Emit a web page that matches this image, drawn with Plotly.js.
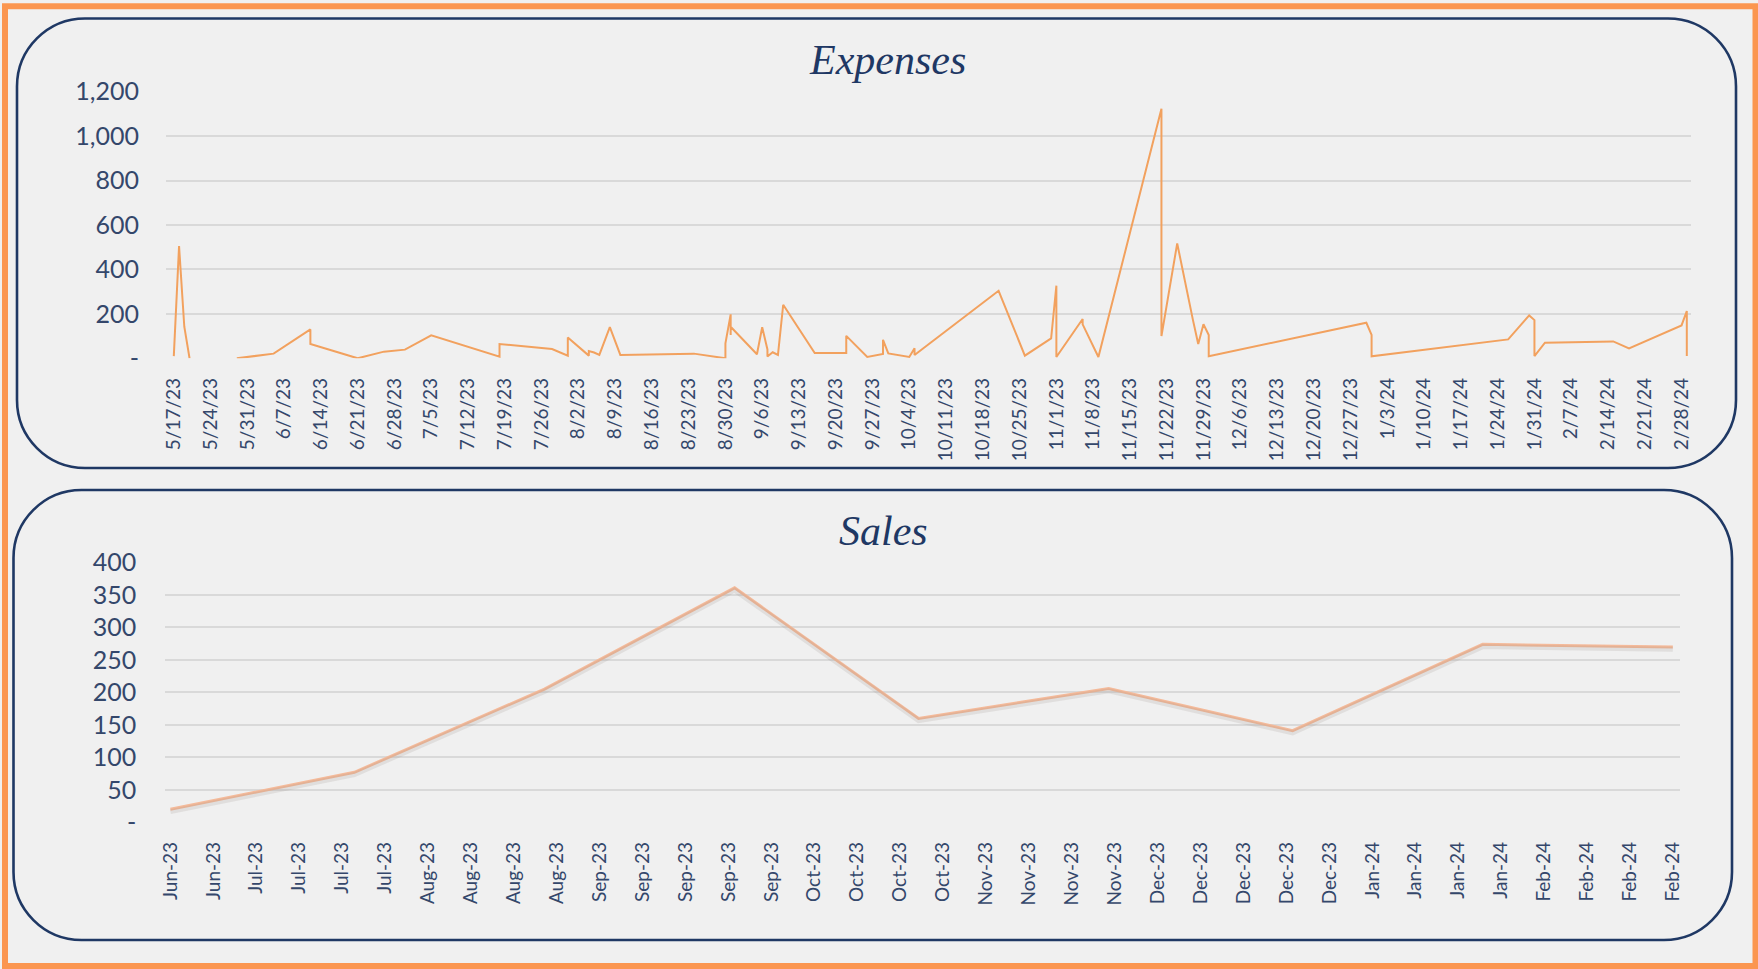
<!DOCTYPE html>
<html>
<head>
<meta charset="utf-8">
<script src="https://cdn.plot.ly/plotly-3.0.1.min.js"></script>
<style>
  html, body { margin: 0; padding: 0; background: #ffffff; }
  #chart { width: 1758px; height: 969px; }
</style>
</head>
<body>
<div id="chart"></div>
<script>
// ---------------- DATA ----------------
const expenseDates = [
  '2023-05-17','2023-05-18','2023-05-19','2023-05-20','2023-05-24',
  '2023-05-29','2023-06-05','2023-06-12','2023-06-12','2023-06-21','2023-06-26','2023-06-30','2023-07-05',
  '2023-07-18','2023-07-18','2023-07-28','2023-07-31','2023-07-31','2023-08-04','2023-08-04','2023-08-05','2023-08-06','2023-08-08','2023-08-10','2023-08-24',
  '2023-08-30','2023-08-30','2023-08-31','2023-08-31','2023-08-31','2023-09-05','2023-09-06','2023-09-07','2023-09-07','2023-09-08','2023-09-09','2023-09-10',
  '2023-09-16','2023-09-22','2023-09-22','2023-09-26','2023-09-29','2023-09-29','2023-09-30','2023-10-04','2023-10-05','2023-10-05',
  '2023-10-21','2023-10-26','2023-10-31','2023-11-01','2023-11-01','2023-11-06','2023-11-06','2023-11-09','2023-11-21','2023-11-21','2023-11-24',
  '2023-11-27','2023-11-28','2023-11-29','2023-11-30','2023-11-30','2023-12-30','2023-12-31','2023-12-31',
  '2024-01-26','2024-01-30','2024-01-31','2024-01-31','2024-02-02','2024-02-15','2024-02-18','2024-02-28','2024-02-29','2024-02-29'
];
const expenseValues = [
  10, 505, 142, 0, null,
  0, 21, 130, 64, 0, 30, 39, 103,
  7, 64, 42, 12, 94, 12, 33, 26, 15, 140, 15, 21,
  0, 67, 198, 105, 142, 18, 140, 40, 8, 27, 15, 241,
  24, 24, 101, 6, 20, 83, 22, 6, 45, 15,
  304, 12, 90, 327, 6, 177, 153, 6, 1123, 100, 517,
  172, 64, 153, 105, 9, 160, 105, 9,
  85, 193, 172, 10, 70, 76, 45, 148, 213, 10
];

const salesDates  = ['2023-06-23','2023-07-23','2023-08-23','2023-09-23','2023-10-23','2023-11-23','2023-12-23','2024-01-23','2024-02-23'];
const salesValues = [20, 77, 205, 361, 160, 206, 141, 274, 270];

const expenseYTicks  = [0, 200, 400, 600, 800, 1000, 1200];
const expenseYLabels = ['-', '200', '400', '600', '800', '1,000', '1,200'];
const salesYTicks    = [0, 50, 100, 150, 200, 250, 300, 350, 400];
const salesYLabels   = ['-', '50', '100', '150', '200', '250', '300', '350', '400'];

const titles = ['Expenses', 'Sales'];

// ---------------- LAYOUT HELPERS ----------------
const W = 1758, H = 969;
const px = x => x / W;
const py = y => 1 - y / H;
function roundRect(x0, y0, x1, y1, r) {
  const k = 0.5523 * r;
  const p = (x, y) => px(x).toFixed(6) + ',' + py(y).toFixed(6);
  return 'M' + p(x0 + r, y0) +
    ' L' + p(x1 - r, y0) +
    ' C' + p(x1 - r + k, y0) + ' ' + p(x1, y0 + r - k) + ' ' + p(x1, y0 + r) +
    ' L' + p(x1, y1 - r) +
    ' C' + p(x1, y1 - r + k) + ' ' + p(x1 - r + k, y1) + ' ' + p(x1 - r, y1) +
    ' L' + p(x0 + r, y1) +
    ' C' + p(x0 + r - k, y1) + ' ' + p(x0, y1 - r + k) + ' ' + p(x0, y1 - r) +
    ' L' + p(x0, y0 + r) +
    ' C' + p(x0, y0 + r - k) + ' ' + p(x0 + r - k, y0) + ' ' + p(x0 + r, y0) + ' Z';
}

const navy = '#1F3864';
const tickColor = '#34476B';
const gridColor = '#D9D9D9';
const fontFam = 'Lato, "Open Sans", sans-serif';
const WEEK = 7 * 24 * 3600 * 1000;

const traces = [
  {
    x: expenseDates, y: expenseValues, xaxis: 'x', yaxis: 'y',
    type: 'scatter', mode: 'lines', connectgaps: false,
    line: { color: '#F2A15E', width: 2 }, hoverinfo: 'x+y'
  },
  {
    x: salesDates, y: salesValues, xaxis: 'x2', yaxis: 'y3',
    type: 'scatter', mode: 'lines',
    line: { color: 'rgba(140,130,125,0.16)', width: 5 }, hoverinfo: 'skip'
  },
  {
    x: salesDates, y: salesValues, xaxis: 'x2', yaxis: 'y2',
    type: 'scatter', mode: 'lines',
    line: { color: '#F4BA9A', width: 3 }, hoverinfo: 'x+y'
  }
];

const xCommon = {
  type: 'date', showgrid: false, showline: false, zeroline: false,
  ticks: 'outside', tickcolor: 'rgba(0,0,0,0)', ticklen: 11,
  tickangle: -90, tickmode: 'linear', dtick: WEEK,
  tickfont: { family: fontFam, size: 19, color: tickColor }
};
const yCommon = {
  showline: false, zeroline: false, showgrid: true,
  gridcolor: gridColor, gridwidth: 1.5,
  ticks: 'outside', tickcolor: 'rgba(0,0,0,0)',
  tickmode: 'array',
  tickfont: { family: fontFam, size: 25, color: tickColor }
};

const layout = {
  width: W, height: H,
  margin: { l: 0, r: 0, t: 0, b: 0 },
  paper_bgcolor: '#F0F0F0',
  plot_bgcolor: 'rgba(0,0,0,0)',
  showlegend: false,
  xaxis: Object.assign({}, xCommon, {
    domain: [px(166), px(1691)], anchor: 'y',
    range: ['2023-05-15 12:21', '2024-02-29 19:12'],
    tick0: '2023-05-17', tickformat: '%-m/%-d/%y'
  }),
  yaxis: Object.assign({}, yCommon, {
    domain: [py(358.3), py(91.7)], anchor: 'x',
    range: [0, 1200], tickvals: expenseYTicks, ticktext: expenseYLabels, ticklen: 21
  }),
  xaxis2: Object.assign({}, xCommon, {
    domain: [px(165.3), px(1679.6)], anchor: 'y2',
    range: ['2023-06-22 04:00', '2024-02-24 02:24'],
    tick0: '2023-06-23', tickformat: '%b-%y'
  }),
  yaxis2: Object.assign({}, yCommon, {
    domain: [py(822.3), py(562.5)], anchor: 'x2',
    range: [0, 400], tickvals: salesYTicks, ticktext: salesYLabels, ticklen: 23
  }),
  yaxis3: {
    overlaying: 'y2', anchor: 'x2', range: [3.5, 403.5],
    showgrid: false, showticklabels: false, zeroline: false, showline: false
  },
  annotations: [
    { text: '<i>' + titles[0] + '</i>', xref: 'paper', yref: 'paper', x: px(887), y: py(60),
      xanchor: 'center', yanchor: 'middle', showarrow: false,
      font: { family: '"Liberation Serif", "DejaVu Serif", serif', size: 42, color: navy } },
    { text: '<i>' + titles[1] + '</i>', xref: 'paper', yref: 'paper', x: px(883), y: py(531),
      xanchor: 'center', yanchor: 'middle', showarrow: false,
      font: { family: '"Liberation Serif", "DejaVu Serif", serif', size: 42, color: navy } }
  ],
  shapes: [
    { type: 'rect', xref: 'paper', yref: 'paper', x0: px(5), x1: px(1755.5), y0: py(6.2), y1: py(966),
      line: { color: '#FB9650', width: 6 }, layer: 'above' },
    { type: 'path', xref: 'paper', yref: 'paper', path: roundRect(17, 18.5, 1736, 468, 68),
      line: { color: navy, width: 2.6 }, layer: 'below' },
    { type: 'path', xref: 'paper', yref: 'paper', path: roundRect(13.5, 490, 1732, 940, 68),
      line: { color: navy, width: 2.6 }, layer: 'below' }
  ]
};

Plotly.newPlot('chart', traces, layout, { displayModeBar: false, responsive: false });
</script>
</body>
</html>
